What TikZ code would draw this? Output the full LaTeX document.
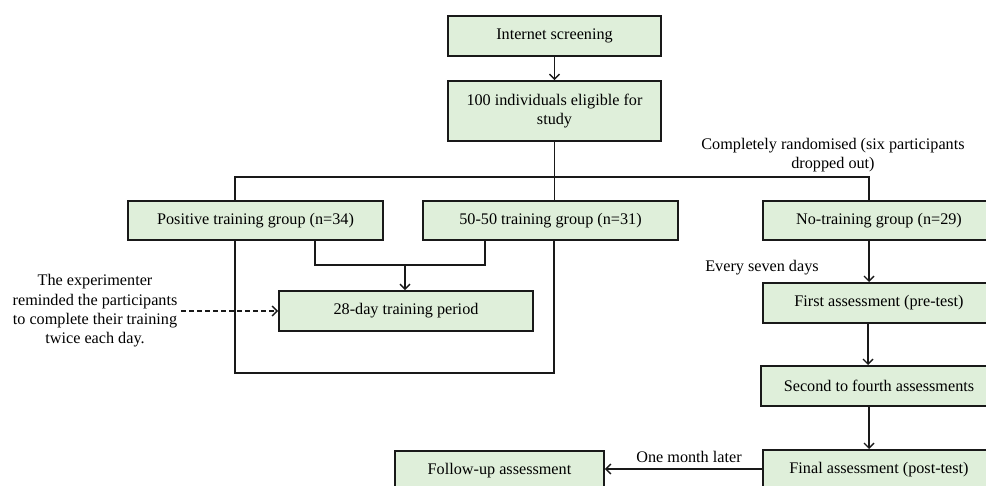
\documentclass[tikz,border=0pt]{standalone}
\usepackage{fontspec}
\setmainfont{Liberation Serif}
\usetikzlibrary{arrows.meta,calc}
\definecolor{boxgreen}{HTML}{DFEFDA}
\tikzset{
  box/.style={draw=black!90, fill=boxgreen, line width=1.8pt, inner sep=0pt, align=center},
  conn/.style={draw=black!90, line width=1.7pt},
  arr/.style={conn, -{Straight Barb[length=5pt,width=10pt,line width=1.4pt]}},
  darr/.style={draw=black!90, line width=1.4pt, dash pattern=on 5pt off 3pt, -{Straight Barb[length=5pt,width=10pt,line width=1.4pt]}},
  lbl/.style={inner sep=0pt, align=center}
}
\begin{document}
\begin{tikzpicture}[x=1pt,y=-1pt,font=\fontsize{16.2}{19.4}\selectfont]
\useasboundingbox (0,0) rectangle (986,486);
\fill[white] (0,0) rectangle (986,486);
\clip (0,0) rectangle (986,486);

\node[box, minimum width=213pt, minimum height=40pt] (screen) at (554.5,36) {Internet screening};
\node[box, minimum width=213pt, minimum height=60pt] (elig) at (554.5,111) {100 individuals eligible for\\study};
\node[box, minimum width=255pt, minimum height=39pt] (pos) at (255.5,220.5) {Positive training group (n=34)};
\node[box, minimum width=255pt, minimum height=39pt] (fifty) at (550.5,220.5) {50-50 training group (n=31)};
\node[box, minimum width=232pt, minimum height=39pt] (notr) at (879,220.5) {No-training group (n=29)};
\node[box, minimum width=254pt, minimum height=40pt] (train) at (406,311) {28-day training period};
\node[box, minimum width=232pt, minimum height=40pt] (first) at (879,303) {First assessment (pre-test)};
\node[box, minimum width=236pt, minimum height=40pt] (second) at (879,386) {Second to fourth assessments};
\node[box, minimum width=232pt, minimum height=40pt] (final) at (879,470) {Final assessment (post-test)};
\node[box, minimum width=209pt, minimum height=40pt] (follow) at (499.5,471) {Follow-up assessment};

\node[lbl] (rand) at (833,155) {Completely randomised (six participants\\dropped out)};
\node[lbl] (note) at (95,311) {The experimenter\\reminded the participants\\to complete their training\\twice each day.};
\node[lbl] (seven) at (762,268) {Every seven days};
\node[lbl] (month) at (689,457) {One month later};

% top chain
\draw[arr] (screen.south) -- (elig.north);
\coordinate (split) at (554.5,177);
\draw[conn] (elig.south) -- (split);
\draw[conn] ($(pos.north west)+(108,0)$) |- (split) -| ($(notr.north west)+(107,0)$);
\draw[conn] (split) -- (split |- fifty.north);

% training loops
\coordinate (mid) at (405,265);
\draw[conn] ($(pos.south west)+(108,0)$) -- ++(0,132) -| ($(fifty.south west)+(132,0)$);
\draw[conn] ($(pos.south west)+(188,0)$) |- (mid) -| ($(fifty.south west)+(63,0)$);
\draw[arr] (mid) -- (mid |- train.north);
\draw[darr] (181,311) -- (train.west);

% right chain
\draw[arr] ($(notr.south west)+(107,0)$) -- ($(first.north west)+(107,0)$);
\draw[arr] ($(first.south west)+(106,0)$) -- ($(second.north west)+(108,0)$);
\draw[arr] ($(second.south west)+(109,0)$) -- ($(final.north west)+(107,0)$);
\draw[arr] (final.west |- 0,469) -- (follow.east |- 0,469);
\end{tikzpicture}
\end{document}
